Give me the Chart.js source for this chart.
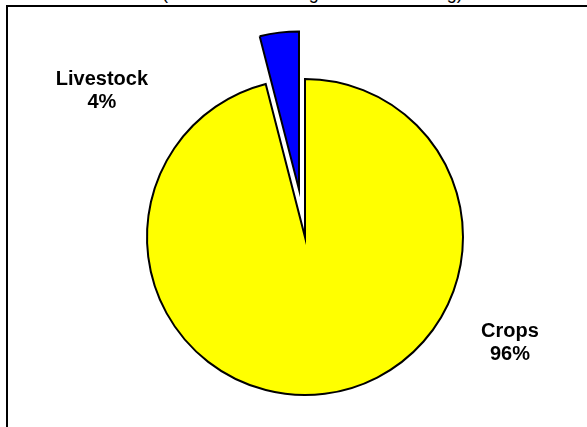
<!DOCTYPE html>
<html>
<head>
<meta charset="utf-8">
<script src="https://cdn.jsdelivr.net/npm/chart.js@4/dist/chart.umd.min.js"></script>
<style>
    html, body { margin: 0; padding: 0; background: #fff; overflow: hidden; }
    #wrap { position: relative; width: 587px; height: 427px; overflow: hidden; }
    #frame { position: absolute; left: 6px; top: 5px; width: 700px; height: 600px;
             border-left: 2px solid #000; border-top: 2px solid #000; }
    #title { position: absolute; left: 162px; top: -16px; white-space: nowrap;
             font: 18px/18px "Liberation Sans", Arial, sans-serif; color: #000; }
    #pie { position: absolute; left: 0; top: 0; }
</style>
</head>
<body>
<div id="wrap">
    <div id="frame"></div>
    <div id="title">(Percent of Total Agricultural Funding)</div>
    <canvas id="pie" width="587" height="427"></canvas>
</div>
<script>
// 1. Данные
const categories = ['Crops', 'Livestock'];
const shares = [96, 4];
const sliceColors = ['#ffff00', '#0000ff'];

// 2. Выдвинутый сектор: сдвигаем центр дуги вдоль биссектрисы
// (встроенный offset в Chart.js увеличивает радиус, а не сдвигает сектор)
const explodePlugin = {
    id: 'explode',
    afterUpdate(chart, args, opts) {
        chart.getDatasetMeta(0).data.forEach((arc, i) => {
            const d = opts.dist[i] || 0;
            const mid = (arc.startAngle + arc.endAngle) / 2;
            arc.x += Math.cos(mid) * d;
            arc.y += Math.sin(mid) * d;
        });
    }
};

// 3. Подписи секторов (угол от 12 часов по часовой и расстояние от центра)
const labelPlugin = {
    id: 'sliceLabels',
    afterDatasetsDraw(chart, args, opts) {
        const ctx = chart.ctx;
        const area = chart.chartArea;
        const cx = (area.left + area.right) / 2;
        const cy = (area.top + area.bottom) / 2;
        ctx.save();
        ctx.fillStyle = '#000';
        ctx.font = 'bold 20px "Liberation Sans", Arial, sans-serif';
        ctx.textAlign = 'center';
        ctx.textBaseline = 'alphabetic';
        categories.forEach((name, i) => {
            const a = opts.angles[i] * Math.PI / 180;
            const x = cx + Math.sin(a) * opts.dist[i];
            const y = cy - Math.cos(a) * opts.dist[i];
            ctx.fillText(name, x, y - 4);
            ctx.fillText(shares[i] + '%', x, y + 19);
        });
        ctx.restore();
    }
};

new Chart(document.getElementById('pie'), {
    type: 'pie',
    data: {
        labels: categories,
        datasets: [{
            data: shares,
            backgroundColor: sliceColors,
            borderColor: '#000',
            borderWidth: 2,
            borderJoinStyle: 'miter'
        }]
    },
    options: {
        responsive: false,
        animation: false,
        events: [],
        devicePixelRatio: 1,
        radius: 158,
        layout: { padding: { left: 23, right: 0, top: 47, bottom: 0 } },
        plugins: {
            legend: { display: false },
            tooltip: { enabled: false },
            explode: { dist: [0, 48] },
            sliceLabels: { angles: [117, 306], dist: [230, 251] }
        }
    },
    plugins: [explodePlugin, labelPlugin]
});
</script>
</body>
</html>
